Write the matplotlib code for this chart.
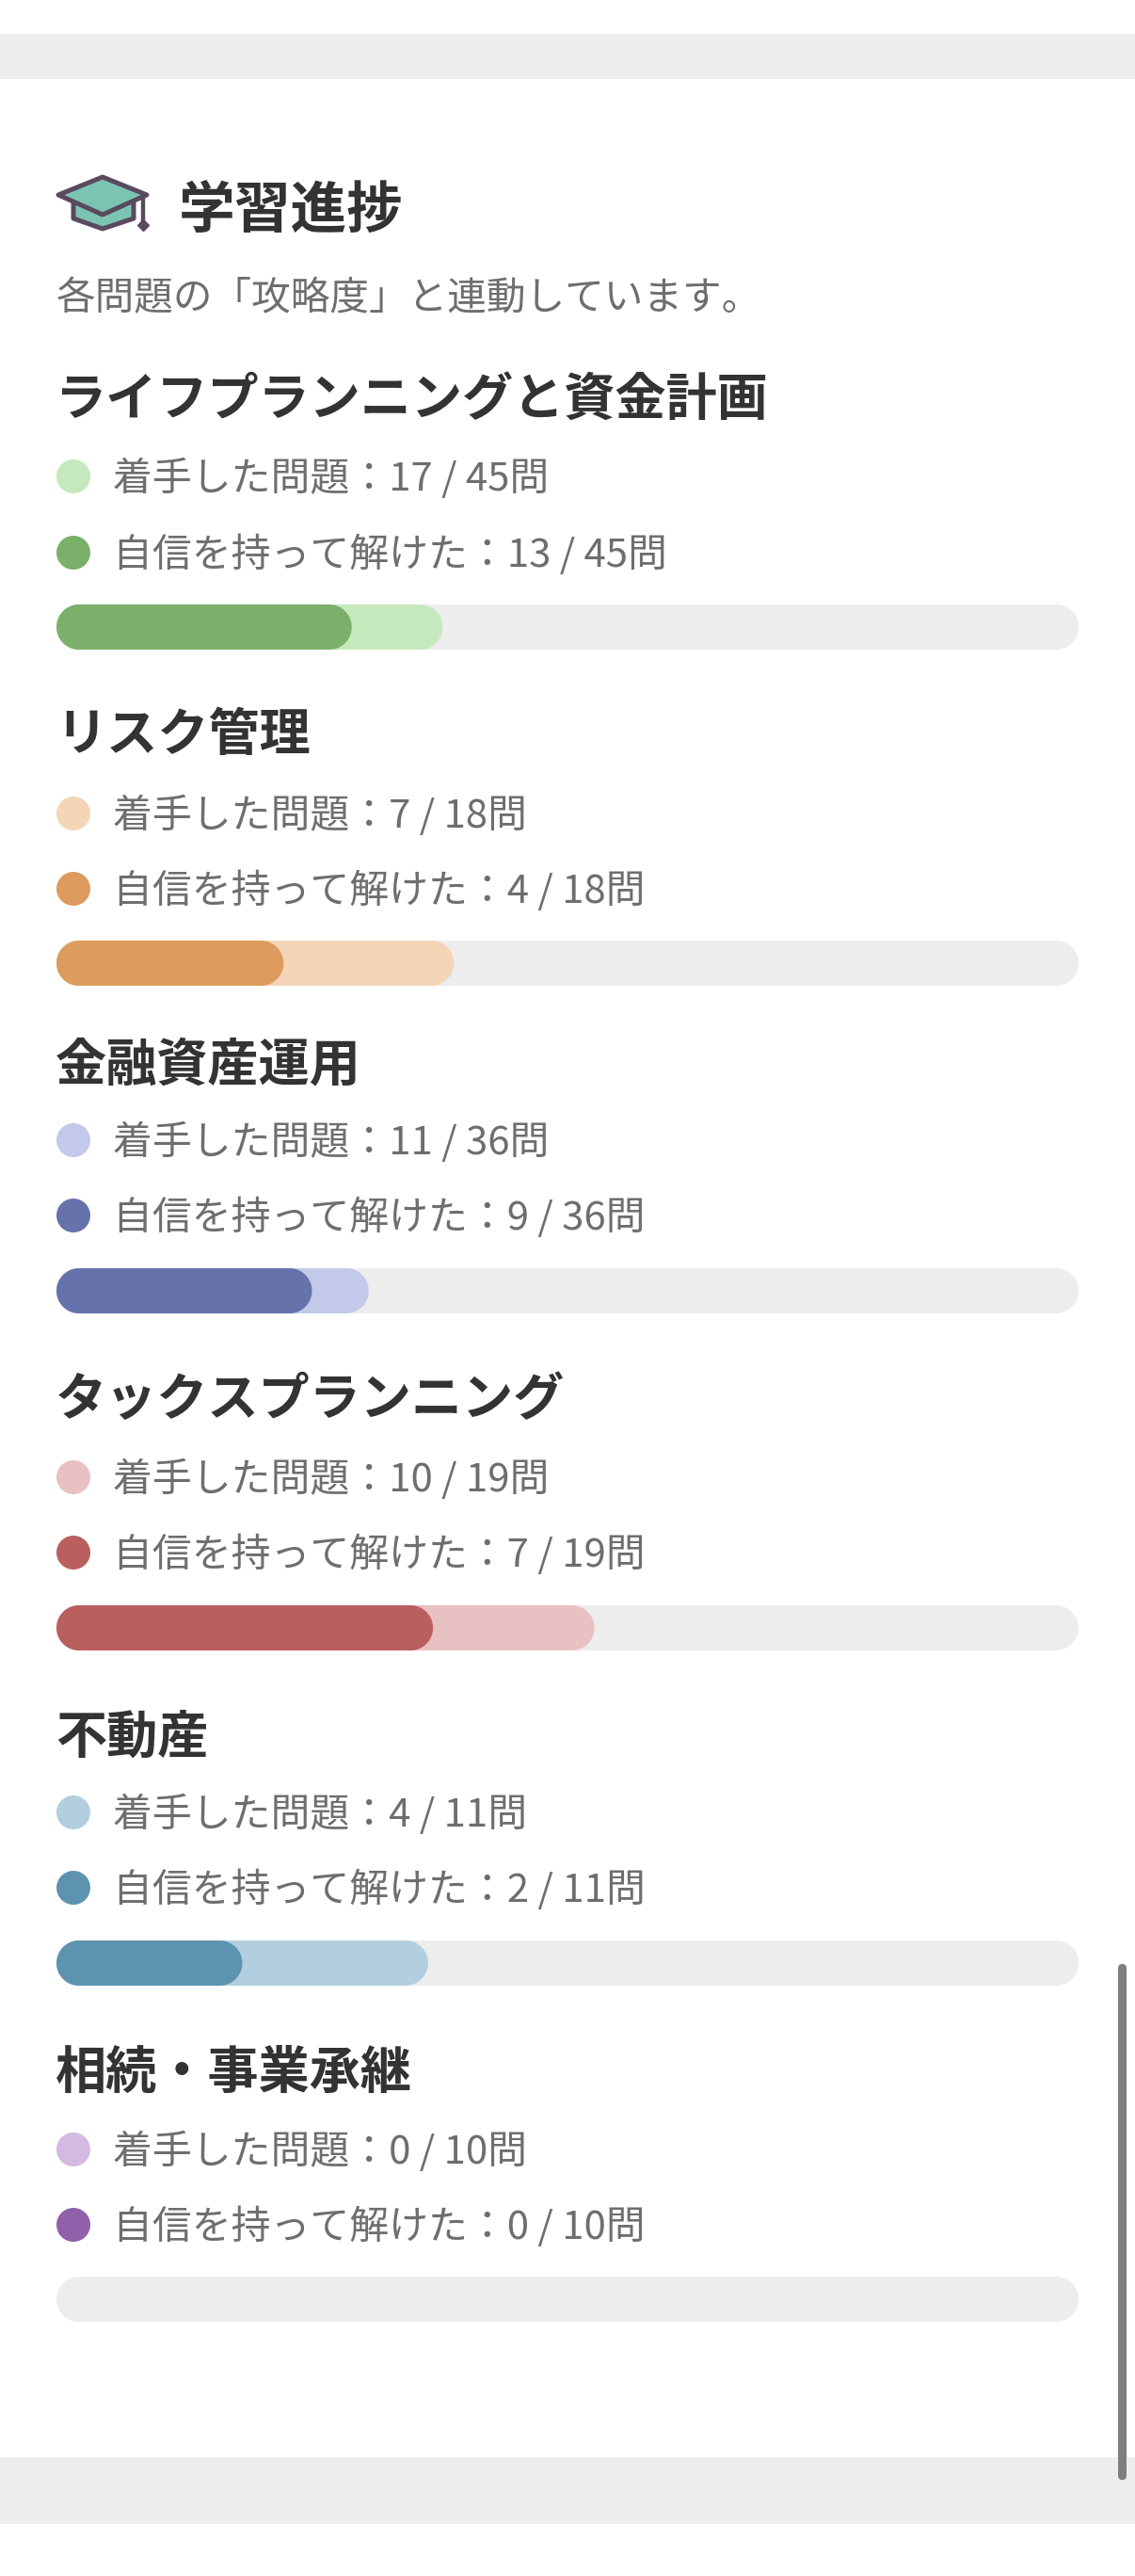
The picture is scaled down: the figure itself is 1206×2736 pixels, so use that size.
import matplotlib

matplotlib.use("Agg")
from matplotlib import pyplot as plt
from matplotlib.patches import Circle, FancyBboxPatch, Polygon, Rectangle
import numpy as np

plt.rcParams["font.family"] = ["Noto Sans CJK JP", "DejaVu Sans"]

W, H = 1206, 2736

# data
categories = [
    "ライフプランニングと資金計画",
    "リスク管理",
    "金融資産運用",
    "タックスプランニング",
    "不動産",
    "相続・事業承継",
]
started = [17, 7, 11, 10, 4, 0]
confident = [13, 4, 9, 7, 2, 0]
totals = [45, 18, 36, 19, 11, 10]
light_colors = ["#C5E9BC", "#F4D5B8", "#C2C9E9", "#E8C1C2", "#B1CFDF", "#D4B9E3"]
dark_colors = ["#7AB06A", "#DD9C5D", "#6672AB", "#B95F5E", "#5E93AF", "#9060AA"]

title_text = "学習進捗"
subtitle_text = "各問題の「攻略度」と連動しています。"
started_label = "着手した問題："
confident_label = "自信を持って解けた："

# layout, in screenshot pixels
title_y = [420, 777, 1127, 1482, 1841, 2197]
row1_y = [506, 864, 1211, 1569, 1925, 2283]
row2_y = [587, 944, 1291, 1649, 2005, 2363]
bar_top = [642, 999, 1347, 1705, 2061, 2418]
BAR_LEFT, BAR_RIGHT, BAR_H = 60, 1146, 48
TRACK = "#EDEDED"
TEXT_DARK = "#333333"
TEXT_GREY = "#6E6E6E"
# CJK glyph boxes sit a little high with va="center"
TITLE_SHIFT = 5
ROW_SHIFT = 2.5


def rounded_bar(ax, value, total, color):
    # stadium shape, ends are true half circles in pixel terms
    r = total * (BAR_H / 2) / (BAR_RIGHT - BAR_LEFT)
    t = np.linspace(-np.pi / 2, np.pi / 2, 40)
    right_x = value - r + r * np.cos(t)
    left_x = r - r * np.cos(t[::-1])
    y_right = 0.5 + 0.5 * np.sin(t)
    y_left = 0.5 + 0.5 * np.sin(t[::-1])
    ax.fill(
        np.concatenate([right_x, left_x]),
        np.concatenate([y_right, y_left]),
        color=color,
        lw=0,
    )


def draw_icon(ax):
    line = "#5A4A5E"
    fill = "#7CC4B2"
    base = [(78, 212), (78, 232), (109, 243), (142, 232), (142, 212)]
    cap = [(62, 207), (109, 188), (156, 207), (109, 228)]
    ax.add_patch(Polygon(base, closed=True, fc=fill, ec=line, lw=3.6, joinstyle="round"))
    ax.add_patch(Polygon(cap, closed=True, fc=fill, ec=line, lw=3.6, joinstyle="round"))
    ax.plot([152, 152], [207, 240], color=line, lw=3.2, solid_capstyle="round")
    ax.plot([152], [239], marker="D", ms=6, color=line)


def main():
    fig = plt.figure(figsize=(W / 100, H / 100), dpi=100, facecolor="white")

    bg = fig.add_axes([0, 0, 1, 1])
    bg.set_xlim(0, W)
    bg.set_ylim(H, 0)
    bg.axis("off")

    bg.add_patch(Rectangle((0, 36), W, 48, fc=TRACK, ec="none"))
    bg.add_patch(Rectangle((0, 2610), W, 71, fc=TRACK, ec="none"))

    draw_icon(bg)
    bg.text(190, 225, title_text, fontsize=43, fontweight="bold", color=TEXT_DARK, va="center")
    bg.text(60, 318, subtitle_text, fontsize=30, color=TEXT_GREY, va="center")

    for i, name in enumerate(categories):
        bg.text(
            59,
            title_y[i] + TITLE_SHIFT,
            name,
            fontsize=39,
            fontweight="bold",
            color=TEXT_DARK,
            va="center",
        )

        bg.add_patch(Circle((78, row1_y[i]), 18, fc=light_colors[i], ec="none"))
        bg.add_patch(Circle((78, row2_y[i]), 18, fc=dark_colors[i], ec="none"))
        bg.text(
            120,
            row1_y[i] + ROW_SHIFT,
            f"{started_label}{started[i]} / {totals[i]}問",
            fontsize=30.2,
            color=TEXT_GREY,
            va="center",
        )
        bg.text(
            120,
            row2_y[i] + ROW_SHIFT,
            f"{confident_label}{confident[i]} / {totals[i]}問",
            fontsize=30.2,
            color=TEXT_GREY,
            va="center",
        )

        ax = fig.add_axes(
            [
                BAR_LEFT / W,
                1 - (bar_top[i] + BAR_H) / H,
                (BAR_RIGHT - BAR_LEFT) / W,
                BAR_H / H,
            ]
        )
        ax.set_xlim(0, totals[i])
        ax.set_ylim(0, 1)
        ax.axis("off")
        rounded_bar(ax, totals[i], totals[i], TRACK)
        if started[i] > 0:
            rounded_bar(ax, started[i], totals[i], light_colors[i])
        if confident[i] > 0:
            rounded_bar(ax, confident[i], totals[i], dark_colors[i])

    # scrollbar
    bg.add_patch(
        FancyBboxPatch(
            (1188, 2086),
            9,
            548,
            boxstyle="round,pad=0,rounding_size=4.5",
            fc="#7F7F7F",
            ec="none",
            zorder=5,
        )
    )

    fig.savefig("out.png", dpi=100)


if __name__ == "__main__":
    main()
